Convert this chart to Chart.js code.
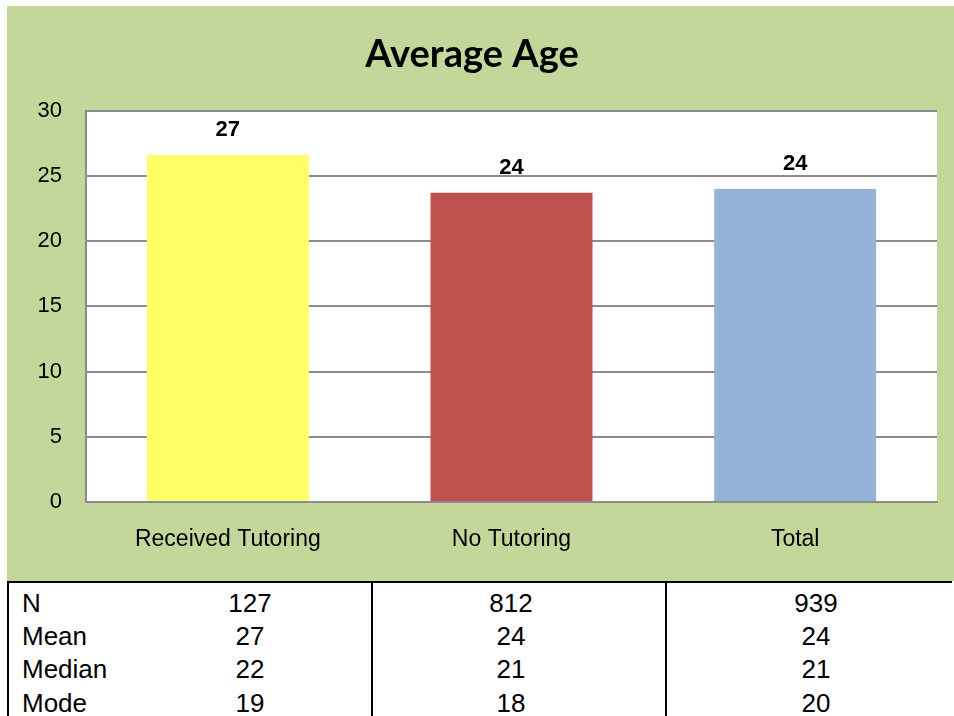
<!DOCTYPE html>
<html>
<head>
<meta charset="utf-8">
<script src="https://cdn.jsdelivr.net/npm/chart.js@4/dist/chart.umd.min.js"></script>
<style>
  body { margin: 0; background: #fff; width: 954px; height: 716px; overflow: hidden; position: relative; }
  #wrap { position: absolute; left: 7px; top: 6px; width: 947px; height: 575px; background: #c4d79b; }
  #stats { position: absolute; left: 0; top: 581px; width: 954px; height: 135px; }
  .cell { position: absolute; font-family: "Liberation Sans", Arial, sans-serif; font-size: 26px; color: #000; line-height: 30px; transform: translateY(-50%); }
  .line { position: absolute; background: #000; }
</style>
</head>
<body>
<div id="wrap"><canvas id="myChart" width="947" height="575"></canvas></div>
<div id="stats"></div>
<script>
let categories = ['Received Tutoring', 'No Tutoring', 'Total'];
let avgAge = [26.6, 23.7, 24.0];
let barColors = ['#ffff66', '#c0504d', '#95b3d7'];
let yTicks = [0, 5, 10, 15, 20, 25, 30];

let statNames = ['N', 'Mean', 'Median', 'Mode'];
let received = [127, 27, 22, 19];
let noTutoring = [812, 24, 21, 18];
let total = [939, 24, 21, 20];

// white plot area
const plotBg = {
  id: 'plotBg',
  beforeDraw(chart) {
    const a = chart.chartArea;
    const c = chart.ctx;
    c.save();
    c.fillStyle = '#ffffff';
    c.fillRect(a.left, a.top, a.right - a.left, a.bottom - a.top);
    c.restore();
  }
};

// value labels above the bars
const valueLabels = {
  id: 'valueLabels',
  afterDatasetsDraw(chart) {
    const c = chart.ctx;
    c.save();
    c.font = 'bold 22px "Liberation Sans", Arial, sans-serif';
    c.fillStyle = '#000';
    c.textAlign = 'center';
    c.textBaseline = 'middle';
    chart.getDatasetMeta(0).data.forEach((bar, i) => {
      c.fillText(Math.round(avgAge[i]), bar.x, bar.y - 25);
    });
    c.restore();
  }
};

let ctx = document.getElementById('myChart').getContext('2d');
let chart = new Chart(ctx, {
  type: 'bar',
  data: {
    labels: categories,
    datasets: [{
      data: avgAge,
      backgroundColor: barColors,
      barPercentage: 0.571,
      categoryPercentage: 1
    }]
  },
  options: {
    responsive: false,
    animation: false,
    layout: { padding: { left: 0, right: 17, top: 0, bottom: 0 } },
    plugins: {
      legend: { display: false },
      tooltip: { enabled: false },
      title: {
        display: true,
        text: 'Average Age',
        color: '#000',
        font: { family: 'Lato, "Open Sans", sans-serif', size: 38, weight: 'bold', lineHeight: 1.2 },
        padding: { top: 26, bottom: 33 }
      }
    },
    scales: {
      x: {
        grid: { display: false, drawTicks: false },
        border: { display: true, color: '#8c8c8c', width: 2 },
        ticks: { color: '#000', font: { family: '"Liberation Sans", Arial, sans-serif', size: 23 }, padding: 24 },
        afterFit(scale) { scale.height = 79; }
      },
      y: {
        min: 0,
        max: 30,
        afterBuildTicks(scale) { scale.ticks = yTicks.map(v => ({ value: v })); },
        grid: { color: '#8c8c8c', lineWidth: 2, drawTicks: false },
        border: { display: true, color: '#8c8c8c', width: 2 },
        ticks: { color: '#000', font: { family: '"Liberation Sans", Arial, sans-serif', size: 22 }, padding: 24 },
        afterFit(scale) { scale.width = 79; }
      }
    }
  },
  plugins: [plotBg, valueLabels]
});

// stats table under the chart
let stats = document.getElementById('stats');
function addLine(l, t, w, h) {
  let d = document.createElement('div');
  d.className = 'line';
  d.style.left = l + 'px'; d.style.top = t + 'px';
  d.style.width = w + 'px'; d.style.height = h + 'px';
  stats.appendChild(d);
}
addLine(7, 0, 945, 2);
addLine(7, 0, 2, 135);
addLine(371, 0, 2, 135);
addLine(665, 0, 2, 135);

let rowY = [22, 55, 88, 122];
let colX = [250, 511, 816];
let cols = [received, noTutoring, total];
statNames.forEach((name, r) => {
  let n = document.createElement('div');
  n.className = 'cell';
  n.textContent = name;
  n.style.left = '22px';
  n.style.top = rowY[r] + 'px';
  stats.appendChild(n);
  cols.forEach((col, k) => {
    let d = document.createElement('div');
    d.className = 'cell';
    d.textContent = col[r];
    d.style.left = colX[k] + 'px';
    d.style.top = rowY[r] + 'px';
    d.style.transform = 'translate(-50%, -50%)';
    stats.appendChild(d);
  });
});
</script>
</body>
</html>
